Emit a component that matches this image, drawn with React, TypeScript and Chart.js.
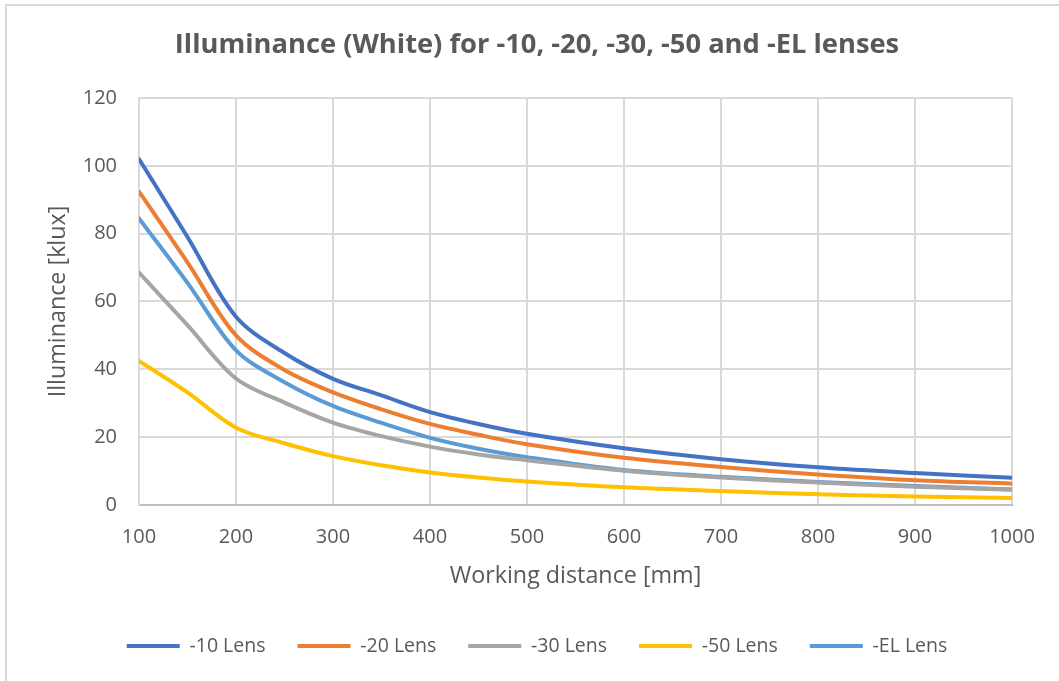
import React, { useEffect, useRef } from "react";
import { Chart, registerables } from "chart.js";

Chart.register(...registerables);

// ---- data ----
const distances = [100, 150, 200, 250, 300, 350, 400, 450, 500, 600, 700, 800, 900, 1000];
const lens10 = [102, 79, 55.5, 44.8, 37.2, 32.3, 27.4, 23.9, 21, 16.7, 13.5, 11.1, 9.4, 8.0];
const lens20 = [92.4, 71.5, 50, 39.8, 33.2, 28.2, 23.9, 20.7, 17.9, 13.9, 11.2, 9.0, 7.3, 6.3];
const lens30 = [68.5, 53, 37.3, 30.2, 24.3, 20.3, 17.2, 14.9, 13.2, 10.1, 8.1, 6.6, 5.4, 4.5];
const lens50 = [42.5, 33.2, 22.8, 18.2, 14.4, 11.7, 9.6, 8.1, 6.9, 5.2, 4.1, 3.2, 2.5, 2.1];
const lensEL = [84.5, 65.5, 45.6, 36.2, 29.2, 24.2, 19.8, 16.6, 14.1, 10.3, 8.3, 6.8, 5.6, 4.6];

const seriesNames = ["-10 Lens", "-20 Lens", "-30 Lens", "-50 Lens", "-EL Lens"];
const seriesValues = [lens10, lens20, lens30, lens50, lensEL];
const seriesColors = ["#4472C4", "#ED7D31", "#A5A5A5", "#FFC000", "#5B9BD5"];

const xTickValues = [100, 200, 300, 400, 500, 600, 700, 800, 900, 1000];
const yTickValues = [0, 20, 40, 60, 80, 100, 120];

const chartTitle = "Illuminance (White) for -10, -20, -30, -50 and -EL lenses";
const xTitle = "Working distance [mm]";
const yTitle = "Illuminance [klux]";

const FONT = "'Open Sans', sans-serif";
const TEXT = "#595959";

export default function App() {
  const ref = useRef<HTMLCanvasElement>(null);

  useEffect(() => {
    if (!ref.current) return;
    const chart = new Chart(ref.current, {
      type: "line",
      data: {
        datasets: seriesNames.map((name, i) => ({
          label: name,
          data: distances.map((x, j) => ({ x, y: seriesValues[i][j] })),
          borderColor: seriesColors[i],
          backgroundColor: seriesColors[i],
          borderWidth: 4,
          pointRadius: 0,
          tension: 0.33,
          fill: false,
          borderCapStyle: "round" as const,
          borderJoinStyle: "round" as const,
        })),
      },
      options: {
        animation: false,
        responsive: false,
        layout: { padding: { left: 62, right: 47, top: 0, bottom: 15.25 } },
        plugins: {
          title: {
            display: true,
            text: chartTitle,
            color: TEXT,
            font: { family: FONT, size: 27.3, weight: "bold" },
            padding: { top: 28.6, bottom: 36.6 },
          },
          legend: {
            position: "bottom",
            labels: {
              boxWidth: 53,
              boxHeight: 4,
              padding: 32,
              color: TEXT,
              font: { family: FONT, size: 19.5 },
              generateLabels: (c: any) =>
                Chart.defaults.plugins.legend.labels
                  .generateLabels(c)
                  .map((l: any) => ({ ...l, lineWidth: 0, fillStyle: l.strokeStyle })),
            },
          },
          tooltip: { enabled: false },
        },
        scales: {
          x: {
            type: "linear",
            min: 100,
            max: 1000,
            afterBuildTicks: (s: any) => {
              s.ticks = xTickValues.map((v) => ({ value: v }));
            },
            ticks: {
              color: TEXT,
              font: { family: FONT, size: 20 },
              padding: 20,
              maxRotation: 0,
              callback: (v: any) => String(v),
            },
            grid: { color: "#D9D9D9", lineWidth: 2, drawTicks: false },
            border: { color: "#BFBFBF", width: 2 },
            title: {
              display: true,
              text: xTitle,
              color: TEXT,
              font: { family: FONT, size: 23.3 },
              padding: { top: 0, bottom: 14.25 },
            },
            afterFit: (s: any) => {
              s.height = 99.25;
            },
          },
          y: {
            min: 0,
            max: 120,
            afterBuildTicks: (s: any) => {
              s.ticks = yTickValues.map((v) => ({ value: v }));
            },
            ticks: {
              color: TEXT,
              font: { family: FONT, size: 20 },
              padding: 22,
              callback: (v: any) => String(v),
            },
            grid: { color: "#D9D9D9", lineWidth: 2, drawTicks: false },
            border: { color: "#D9D9D9", width: 2 },
            title: {
              display: true,
              text: yTitle,
              color: TEXT,
              font: { family: FONT, size: 23.3 },
              padding: { top: -18, bottom: 0 },
            },
            afterFit: (s: any) => {
              s.width = 77;
            },
          },
        },
      } as any,
    });
    return () => chart.destroy();
  }, []);

  return (
    <div
      style={{
        position: "fixed",
        left: 0,
        top: 0,
        width: 1059,
        height: 681,
        overflow: "hidden",
        background: "#fff",
      }}
    >
      <div
        style={{
          position: "absolute",
          left: 5,
          top: 4,
          width: 1200,
          height: 800,
          border: "2px solid #D9D9D9",
          pointerEvents: "none",
        }}
      />
      <canvas
        ref={ref}
        width={1059}
        height={681}
        style={{ position: "absolute", left: 0, top: 0, width: 1059, height: 681 }}
      />
    </div>
  );
}
